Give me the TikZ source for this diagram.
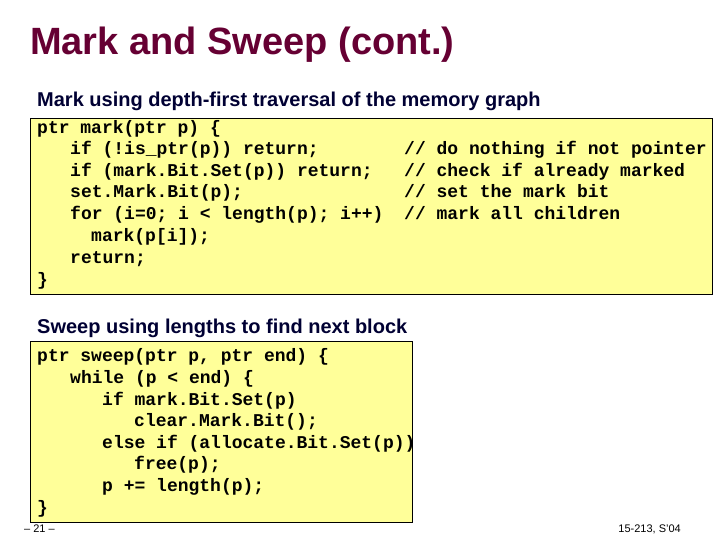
\documentclass[tikz,border=0pt]{standalone}
\usepackage{fontspec}
\setmainfont{Liberation Sans}
\newfontfamily\codef{Liberation Mono}
\definecolor{titlec}{HTML}{660033}
\definecolor{headc}{HTML}{000033}
\definecolor{boxc}{HTML}{FFFF99}
\begin{document}
\begin{tikzpicture}[x=1pt,y=-1pt,
  code/.style={anchor=base west,inner sep=0pt,font=\codef\bfseries\fontsize{18}{20}\selectfont},
  head/.style={anchor=base west,inner sep=0pt,text=headc,font=\bfseries\fontsize{20}{22}\selectfont},
  foot/.style={anchor=base west,inner sep=0pt,font=\fontsize{11}{12}\selectfont},
  box/.style={draw=black,line width=0.8pt,fill=boxc}]
\useasboundingbox (0,0) rectangle (720,540);
\node[anchor=base west,inner sep=0pt,text=titlec,font=\bfseries\fontsize{38}{42}\selectfont] (title) at (30,55) {Mark and Sweep (cont.)};
\node[head] (h1) at (37,107) {Mark using depth-first traversal of the memory graph};
\draw[box] (30,118) rectangle (712,294);
\node[code] (a1) at (37,134) {ptr mark(ptr p) \{};
\node[code] (a2) at (70,155) {if (!is\_ptr(p)) return;};
\node[code] (a3) at (70,177) {if (mark.Bit.Set(p)) return;};
\node[code] (a4) at (70,198) {set.Mark.Bit(p);};
\node[code] (a5) at (70,220) {for (i=0; i < length(p); i++)};
\node[code] (a6) at (91,241) {mark(p[i]);};
\node[code] (a7) at (70,263) {return;};
\node[code] (a8) at (37,285) {\}};
\node[code] (c1) at (404,155) {// do nothing if not pointer};
\node[code] (c2) at (404,177) {// check if already marked};
\node[code] (c3) at (404,198) {// set the mark bit};
\node[code] (c4) at (404,220) {// mark all children};
\node[head] (h2) at (37,333) {Sweep using lengths to find next block};
\draw[box] (30,341) rectangle (412,522);
\node[code] (b1) at (37,361) {ptr sweep(ptr p, ptr end) \{};
\node[code] (b2) at (70,383) {while (p < end) \{};
\node[code] (b3) at (102,405) {if mark.Bit.Set(p)};
\node[code] (b4) at (134,426) {clear.Mark.Bit();};
\node[code] (b5) at (102,448) {else if (allocate.Bit.Set(p))};
\node[code] (b6) at (134,469) {free(p);};
\node[code] (b7) at (102,491) {p += length(p);};
\node[code] (b8) at (37,513) {\}};
\node[foot] (f1) at (24,532) {-- 21 --};
\node[foot,anchor=base east] (f2) at (681,532) {15-213, S'04};
\end{tikzpicture}
\end{document}
